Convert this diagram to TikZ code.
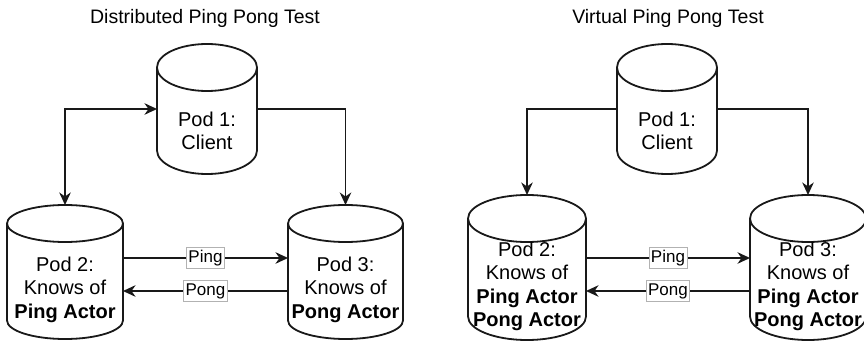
\documentclass[tikz,border=0pt]{standalone}
\usepackage{fontspec}
\setmainfont{Liberation Sans}
\usetikzlibrary{arrows.meta}

\tikzset{
  podbox/.style={rectangle, draw=none, inner sep=0pt, outer sep=0pt},
  podline/.style={line width=1.8pt, draw=black!90},
  podtext/.style={align=center, inner sep=0pt, font=\fontsize{20}{23.5}\selectfont},
  conn/.style={line width=1.8pt, draw=black!90, -{Stealth[length=12.5pt,width=11.5pt,inset=4pt]}},
  conn2/.style={line width=1.8pt, draw=black!90, {Stealth[length=12.5pt,width=11.5pt,inset=4pt]}-{Stealth[length=12.5pt,width=11.5pt,inset=4pt]}},
  lbl/.style={draw=black!30, line width=0.8pt, fill=white, inner xsep=2pt, inner ysep=2.5pt,
              text height=12.5pt, text depth=3.5pt, font=\fontsize{17}{20}\selectfont},
  heading/.style={font=\fontsize{19.5}{23.5}\selectfont, inner sep=0pt},
}

% #1 name, #2 centre x, #3 top y, #4 bottom y (both measured from the top edge),
% #5 width, #6 vertical radius of the end ellipses, #7 text drop, #8 text
\newcommand\podshape[8]{%
  \pgfmathsetmacro\podW{#5}%
  \pgfmathsetmacro\podH{#4-#3}%
  \pgfmathsetmacro\podCY{343-(#3+#4)/2}%
  \pgfmathsetmacro\podRX{#5/2}%
  \node[podbox, minimum width=\podW pt, minimum height=\podH pt] (#1) at (#2,\podCY) {};
  \draw[podline] ([yshift=-#6pt]#1.north west) -- ([yshift=#6pt]#1.south west)
     arc[start angle=180, end angle=360, x radius=\podRX pt, y radius=#6pt]
     -- ([yshift=-#6pt]#1.north east);
  \draw[podline] ([yshift=-#6pt]#1.north) ellipse[x radius=\podRX pt, y radius=#6pt];
  \node[podtext] (#1t) at ([yshift=-#7pt]#1.center) {#8};
}

\begin{document}
\begin{tikzpicture}[x=1pt, y=1pt]
  \useasboundingbox (0,0) rectangle (864,343);
  \fill[white] (0,0) rectangle (864,343);
  \clip (0,0) rectangle (864,343);

  % ---- distributed setup ----
  \node[heading] (titleL) at (205,325) {Distributed Ping Pong Test};
  \podshape{p1L}{207}{44}{174}{100}{23.5}{22}{Pod 1:\\Client}
  \podshape{p2L}{65}{205}{339}{116}{18.5}{17.5}{Pod 2:\\Knows of\\\textbf{Ping Actor}}
  \podshape{p3L}{345.5}{205}{339}{115}{18.5}{17.5}{Pod 3:\\Knows of\\\textbf{Pong Actor}}

  \draw[conn2] (p2L.north) |- (p1L.west);
  \draw[conn] (p1L.east) -| (p3L.north);
  \draw[conn] ([yshift=14pt]p2L.east) -- node[lbl] (pingL) {Ping} ([yshift=14pt]p3L.west);
  \draw[conn] ([yshift=-19pt]p3L.west) -- node[lbl] (pongL) {Pong} ([yshift=-19pt]p2L.east);

  % ---- virtual setup ----
  \node[heading] (titleR) at (668,325) {Virtual Ping Pong Test};
  \podshape{p1R}{667}{44}{174}{100}{23.5}{22}{Pod 1:\\Client}
  \podshape{p2R}{527}{195}{340}{118}{23.5}{19}{Pod 2:\\Knows of\\\textbf{Ping Actor}\\\textbf{Pong Actor}}
  \podshape{p3R}{808}{195}{340}{116}{23.5}{19}{Pod 3:\\Knows of\\\textbf{Ping Actor}\\\textbf{Pong Actor}}

  \draw[conn] (p1R.west) -| (p2R.north);
  \draw[conn] (p1R.east) -| (p3R.north);
  \draw[conn] ([yshift=9.5pt]p2R.east) -- node[lbl] (pingR) {Ping} ([yshift=9.5pt]p3R.west);
  \draw[conn] ([yshift=-23.5pt]p3R.west) -- node[lbl] (pongR) {Pong} ([yshift=-23.5pt]p2R.east);
\end{tikzpicture}
\end{document}
